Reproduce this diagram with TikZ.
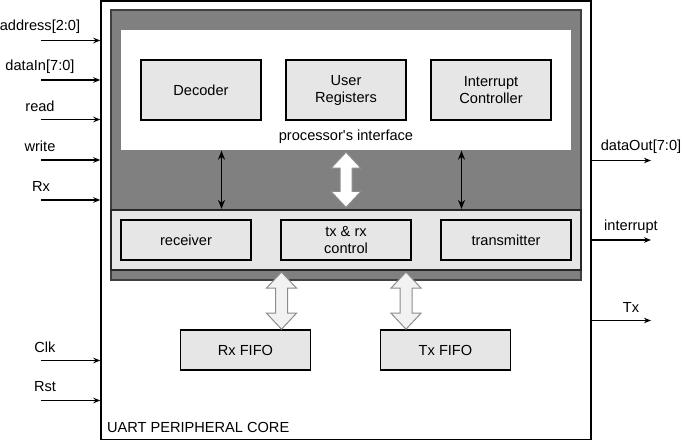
\documentclass[tikz,border=0pt]{standalone}
\usepackage{fontspec}
\setmainfont{Liberation Sans}[Ligatures=TeXOff]
\usetikzlibrary{arrows.meta,calc}

\definecolor{corefill}{HTML}{808080}
\definecolor{blockfill}{HTML}{E6E6E6}
\definecolor{busfill}{HTML}{F2F2F2}

% hollow two-headed bus arrow between two points
\newcommand{\busarrow}[3][busfill]{%
  \draw[bus,fill=#1] let \p1=(#2), \p2=(#3) in
    (\x1,\y1) -- (\x1+15pt,\y1-16pt) -- (\x1+6pt,\y1-16pt) -- (\x2+6pt,\y2+16pt)
    -- (\x2+15pt,\y2+16pt) -- (\x2,\y2) -- (\x2-15pt,\y2+16pt) -- (\x2-6pt,\y2+16pt)
    -- (\x1-6pt,\y1-16pt) -- (\x1-15pt,\y1-16pt) -- cycle;}

\begin{document}
\begin{tikzpicture}[x=1pt,y=-1pt,
    font=\fontsize{14.6}{17}\selectfont,
    line width=1.4pt,
    blk/.style={draw,fill=blockfill,minimum width=120pt,minimum height=60pt,align=center,inner sep=0pt},
    sub/.style={draw,fill=blockfill,minimum width=130pt,minimum height=40pt,align=center,inner sep=0pt},
    sig/.style={-{Stealth[length=7pt,width=5.5pt]},line width=1.2pt},
    link/.style={{Stealth[length=9pt,width=7pt]}-{Stealth[length=9pt,width=7pt]},line width=1.8pt},
    bus/.style={draw=black!45,line width=1pt,line join=miter},
    lbl/.style={inner sep=0pt}]
      % \draw[help lines](0,0) grid[step=20] (683,442);
      \useasboundingbox (0,0) rectangle (683,442);

      \draw (346,220.25) node[draw,minimum width=490pt,minimum height=438.5pt] (core) {};
      \node[lbl,anchor=west] at ([shift={(6,-13)}]core.south west) {UART PERIPHERAL CORE};

      \draw (346,145) node[draw=black!75,line width=1.2pt,fill=corefill,minimum width=470pt,minimum height=270pt] (inner) {};
      \draw (346,90) node[fill=white,minimum width=450pt,minimum height=120pt] (ifc) {};
      \node[lbl] at (346,136.5) {processor's interface};

      \draw (201,90) node[blk] (dec) {Decoder};
      \draw (346,90) node[blk] (regs) {User\\Registers};
      \draw (491,90) node[blk] (intc) {Interrupt\\Controller};

      \draw (346,240) node[draw=black!85,line width=2.2pt,fill=blockfill,minimum width=470pt,minimum height=60pt] (ctlbox) {};
      \draw (186,240) node[sub] (recv) {receiver};
      \draw (346,240) node[sub] (ctl) {tx \& rx\\control};
      \draw (506,240) node[sub] (xmit) {transmitter};

      \draw (245.5,350) node[sub,line width=1.6pt] (rxfifo) {Rx FIFO};
      \draw (445.5,350) node[sub,line width=1.6pt] (txfifo) {Tx FIFO};

      % links between interface and serial part
      \coordinate (lnkA) at (221.5,0);
      \coordinate (lnkB) at (461.5,0);
      \coordinate (busR) at (281.5,0);
      \coordinate (busT) at (406,0);
      \draw[link] (ifc.south -| lnkA) -- (ctlbox.north -| lnkA);
      \draw[link] (ifc.south -| lnkB) -- (ctlbox.north -| lnkB);
      \busarrow[white]{[yshift=-1.5pt]ifc.south}{[yshift=1.5pt]ctlbox.north}
      \busarrow{[yshift=-1pt]ctlbox.south -| busR}{rxfifo.north -| busR}
      \busarrow{[yshift=-1pt]ctlbox.south -| busT}{txfifo.north -| busT}

      % inputs
      \foreach \y/\name/\lx/\txt in {40.5/addr/40/{address[2:0]}, 80/din/40/{dataIn[7:0]},
          119.5/rd/40/read, 160/wr/40/write, 200/rx/41/Rx, 360.5/clk/45/Clk, 400.5/rst/45/Rst}{
        \coordinate (\name) at (41,\y);
        \draw[sig] (\name) -- (\name -| core.west);
        \node[lbl] at (\lx,\y-13.5) {\txt};
      }

      % outputs
      \foreach \y/\name/\lx/\txt in {160.5/dout/641/{dataOut[7:0]}, 240/irq/631/interrupt, 320.5/tx/631/Tx}{
        \coordinate (\name) at (651,\y);
        \draw[sig] (\name -| core.east) -- (\name);
        \node[lbl] at (\lx,\y-13.5) {\txt};
      }
    \end{tikzpicture}
\end{document}
